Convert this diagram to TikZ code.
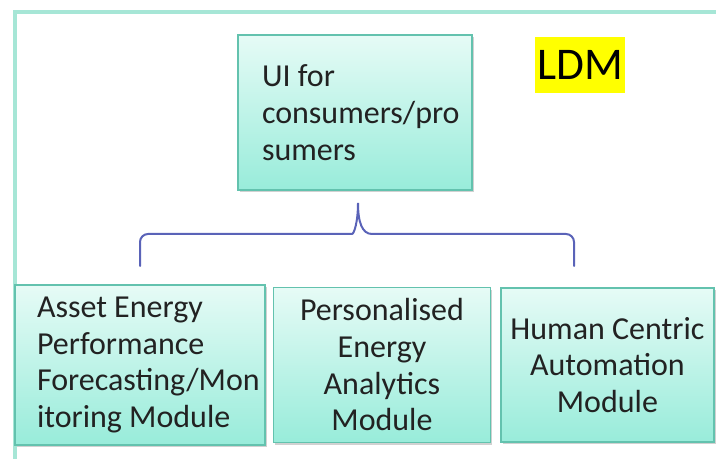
\documentclass[tikz,border=0pt]{standalone}
\usepackage{fontspec}
\setmainfont{Carlito}
\usetikzlibrary{positioning, shadows}
\definecolor{frameTeal}{HTML}{A6E6D6}
\definecolor{boxEdge}{HTML}{63C2AE}
\definecolor{boxTop}{HTML}{E6FBF6}
\definecolor{boxBottom}{HTML}{98ECDA}
\definecolor{braceBlue}{HTML}{5A63B8}
\definecolor{ldmYellow}{HTML}{FFFF00}
\definecolor{textDark}{HTML}{222222}

\begin{document}
\begin{tikzpicture}[
          x=0.75pt, y=-0.75pt,
          module/.style={draw=boxEdge, line width=1.1pt, top color=boxTop, bottom color=boxBottom, text=textDark, font=\fontsize{24}{27.5}\selectfont, inner sep=0pt, drop shadow={shadow xshift=1.2pt, shadow yshift=-1.5pt, opacity=0.3, fill=black!60}},
          tag/.style={fill=ldmYellow, inner sep=0pt, minimum width=67.5pt, minimum height=42pt, font=\fontsize{34}{40}\selectfont},
          frame/.style={draw=frameTeal, line width=3pt},
          brace/.style={draw=braceBlue, line width=1.5pt, line cap=round}
        ]
        \useasboundingbox (0,0) rectangle (716,459);
        \draw[frame] (15,459) |- (716,12);
        \node[module, align=flush left, text width=139.5pt, inner xsep=18pt, minimum height=116.25pt] (ui) at (355,112.5) {UI for\\consumers/pro\\sumers};
        \node[tag] (ldm) at (580,65) {LDM};
        \node[module, align=flush left, text width=154.5pt, inner xsep=16.5pt, minimum height=120pt] (asset) at (140,365) {Asset Energy\\Performance\\Forecasting/Mon\\itoring Module};
        \node[module, align=center, minimum width=162.75pt, minimum height=116.25pt, right=5.25pt of asset] (analytics) {Personalised\\Energy\\Analytics\\Module};
        \node[module, align=center, minimum width=159.75pt, minimum height=115.5pt, right=6.75pt of analytics] (automation) {Human Centric\\Automation\\Module};
        % brace under the UI box
        \coordinate (braceL) at (140,266);
        \coordinate (braceR) at (574,266);
        \coordinate (braceTip) at (358,203);
        \draw[brace] (braceL) [rounded corners=6pt] |- (344,234) [sharp corners] .. controls (354,234) and (358,222) .. (braceTip) .. controls (358,222) and (362,234) .. (372,234) [rounded corners=6pt] -| (braceR);
      \end{tikzpicture}
\end{document}
